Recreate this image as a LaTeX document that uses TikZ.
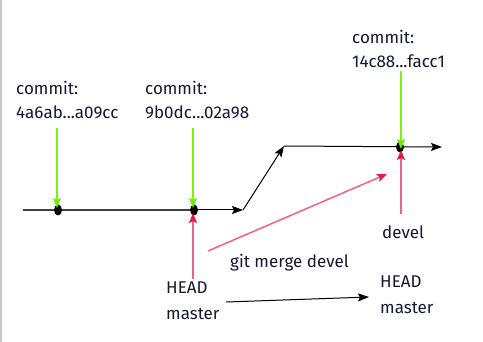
\documentclass[tikz,border=0pt]{standalone}
\usepackage{fontspec}
\setmainfont{Fira Sans}
\usetikzlibrary{arrows.meta,shapes.geometric}
\definecolor{txt}{RGB}{20,24,48}
\definecolor{grn}{RGB}{130,240,20}
\definecolor{grnhead}{RGB}{110,235,0}
\definecolor{redl}{RGB}{235,100,130}
\definecolor{redh}{RGB}{220,30,70}
\definecolor{border}{RGB}{200,200,200}
\tikzset{
  lbl/.style={anchor=base west,inner sep=0pt,font=\fontsize{17}{19}\selectfont,text=txt},
  dot/.style={ellipse,fill=black,minimum width=8pt,minimum height=11pt,inner sep=0pt},
  mainline/.style={draw=black!75,line width=1.6pt},
  blk/.style={draw=black,line width=1pt,-{Stealth[length=11pt,width=8pt,inset=2pt]}},
  grnarr/.style={draw=grn,line width=1.4pt,-{Stealth[length=10pt,width=8pt,inset=2pt,color=grnhead]}},
  redarr/.style={draw=redl,line width=1.5pt,-{Stealth[length=10pt,width=8pt,inset=2pt,color=redh]}},
}
\begin{document}
\begin{tikzpicture}[x=1pt,y=-1pt]
\useasboundingbox (0,0) rectangle (483,342);
\fill[white] (0,0) rectangle (483,342);
\draw[border,line width=1.5pt] (0.75,0) -- (0.75,342);
% coordinates
\coordinate (m0) at (23,210);
\coordinate (m1) at (243,210);
\coordinate (u0) at (284,146);
\coordinate (u1) at (442,147);
\node[dot] (c1) at (58,210) {};
\node[dot] (c2) at (194,210) {};
\node[dot] (c3) at (400,147) {};
% main lines
\draw[mainline] (m0) -- (c1) -- (c2);
\draw[mainline,blk] (c2) -- (m1);
\draw[blk] (m1) -- (u0);
\draw[blk] (u0) -- (u1);
% labels
\node[lbl] (t1a) at (16,95) {commit:};
\node[lbl] (t1b) at (16,119) {4a6ab...a09cc};
\node[lbl] (t2a) at (145,95) {commit:};
\node[lbl] (t2b) at (145,119) {9b0dc...02a98};
\node[lbl] (t3a) at (352,44) {commit:};
\node[lbl] (t3b) at (352,68) {14c88...facc1};
\node[lbl] (dv) at (382,239) {devel};
\node[lbl] (gm) at (230,268) {git merge devel};
\node[lbl] (h1) at (166,294) {HEAD};
\node[lbl] (m1t) at (166,320) {master};
\node[lbl] (h2) at (380,288) {HEAD};
\node[lbl] (m2t) at (380,314) {master};
% green arrows
\coordinate (g1) at (57,128);
\coordinate (g2) at (193,128);
\coordinate (g3) at (401,71);
\draw[grnarr] (g1) -- (57,208);
\draw[grnarr] (g2) -- (193,208);
\draw[grnarr] (g3) -- (401,149);
% red arrows
\coordinate (r1) at (193,279);
\coordinate (r2) at (401,214);
\coordinate (r3s) at (208,251);
\coordinate (r3e) at (387,174);
\draw[redarr] (r1) -- (193,213);
\draw[redarr] (r2) -- (401,150);
\draw[redarr] (r3s) -- (r3e);
% black move arrow
\coordinate (b0) at (226,302);
\coordinate (b1) at (369,297);
\draw[blk] (b0) -- (b1);
\end{tikzpicture}
\end{document}
